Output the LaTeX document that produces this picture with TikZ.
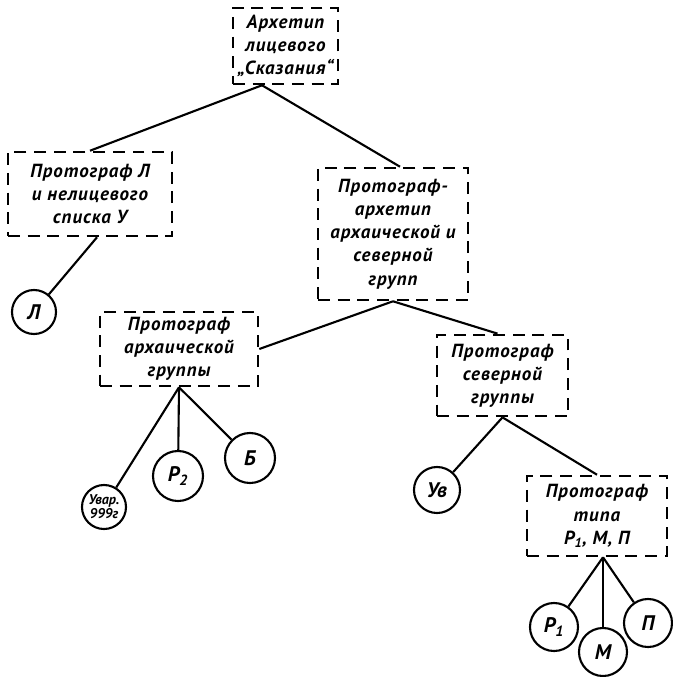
\documentclass[tikz,border=0pt]{standalone}
\usepackage{fontspec}
\setmainfont{PT Sans}
\usetikzlibrary{calc}

\newcommand{\treefont}{\fontsize{13.5}{16.5}\selectfont\bfseries\itshape\addfontfeatures{LetterSpace=5}}
\newcommand{\copyfont}{\fontsize{15}{16}\selectfont\bfseries\itshape}
\newcommand{\tinyfont}{\fontsize{10}{10}\selectfont\bfseries\itshape}

\tikzset{
    proto/.style={draw, line width=1.8pt, dash pattern=on 8.5pt off 5.5pt,
        align=center, inner sep=0pt, font=\treefont},
    copy/.style={draw, circle, line width=1.5pt, inner sep=0pt, font=\copyfont},
    link/.style={line width=1.5pt}
}

\begin{document}
\begin{tikzpicture}[x=0.025cm,y=-0.025cm]
    \useasboundingbox (0,0) rectangle (672,677);

    % archetype
    \node[proto, minimum width=2.63cm, minimum height=1.9cm] (arch) at (285.5,46)
        {Архетип\\лицевого\\„Сказания“};

    % first level
    \node[proto, minimum width=4.1cm, minimum height=2.1cm] (protoL) at (90,194)
        {Протограф Л\\и нелицевого\\списка У};
    \node[proto, minimum width=3.75cm, minimum height=3.3cm] (protoAS) at (393,234)
        {Протограф-\\архетип\\архаической и\\северной\\групп};

    % second level
    \node[proto, minimum width=3.95cm, minimum height=1.85cm] (protoA) at (179,349)
        {Протограф\\архаической\\группы};
    \node[proto, minimum width=3.28cm, minimum height=2.03cm] (protoS) at (502.5,375.5)
        {Протограф\\северной\\группы};
    \node[proto, minimum width=3.5cm, minimum height=2.0cm] (protoT) at (597,516)
        {Протограф\\типа\\Р\textsubscript{1}, М, П};

    % copies
    \node[copy, minimum size=1.1cm] (L) at (34,312) {Л};
    \node[copy, minimum size=1.1cm, font=\tinyfont, align=center] (Uvar) at (104,507) {Увар.\\999г};
    \node[copy, minimum size=1.25cm] (P2) at (178,476) {Р\textsubscript{2}};
    \node[copy, minimum size=1.25cm] (B) at (250,458) {Б};
    \node[copy, minimum size=1.15cm] (Uv) at (437,490) {Ув};
    \node[copy, minimum size=1.2cm] (P1) at (554,627) {Р\textsubscript{1}};
    \node[copy, minimum size=1.2cm] (M) at (603,652) {М};
    \node[copy, minimum size=1.2cm] (P) at (648,623) {П};

    % branch points
    \coordinate (arch-b) at ($(arch.south)+(-23.5,0)$);
    \coordinate (protoL-b) at ($(protoL.south)+(7,0)$);
    \coordinate (protoT-b) at ($(protoT.south)+(6,0)$);

    % links
    \draw[link] (arch-b) -- (protoL.north);
    \draw[link] (arch-b) -- ($(protoAS.north)+(7,0)$);
    \draw[link] (protoL-b) -- (L);
    \draw[link] (protoAS.south) -- (protoA.east);
    \draw[link] (protoAS.south) -- ($(protoS.north)+(-5,0)$);
    \draw[link] (protoA.south) -- (Uvar);
    \draw[link] (protoA.south) -- (P2);
    \draw[link] (protoA.south) -- (B);
    \draw[link] (protoS.south) -- (Uv);
    \draw[link] (protoS.south) -- (protoT.north);
    \draw[link] (protoT-b) -- (P1);
    \draw[link] (protoT-b) -- (M);
    \draw[link] (protoT-b) -- (P);

\end{tikzpicture}
\end{document}
